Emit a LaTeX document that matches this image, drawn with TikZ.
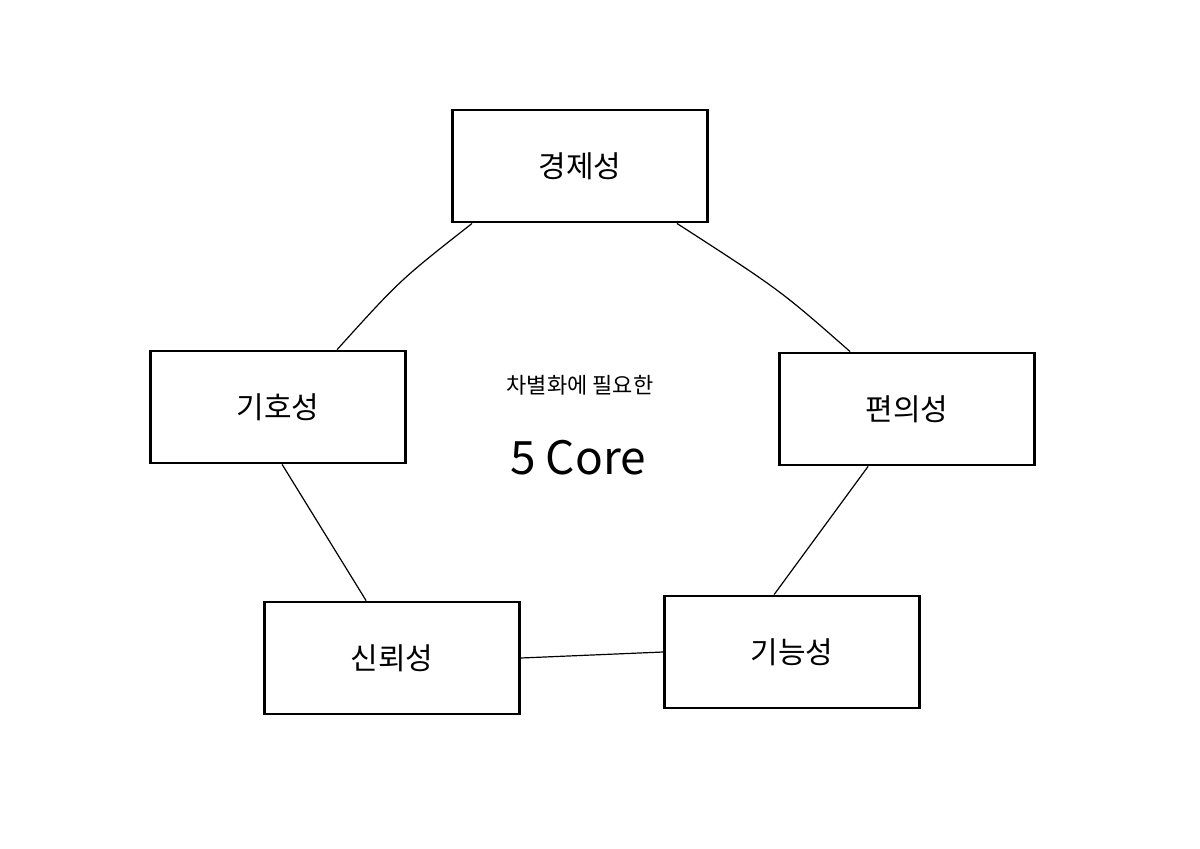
\documentclass[tikz,border=0pt]{standalone}
\usepackage{fontspec}
\setmainfont{Noto Sans CJK KR}
\begin{document}
\begin{tikzpicture}[x=1pt,y=-1pt,
  box/.style={draw=black,line width=2.8pt,minimum width=255pt,minimum height=112pt,font=\fontsize{30}{36}\selectfont},
  link/.style={draw=black,line width=1.2pt}]
\useasboundingbox[fill=white] (0,0) rectangle (1200,849);
\node[box] (a) at (580,166) {경제성};
\node[box] (b) at (278,407) {기호성};
\node[box] (c) at (907,409) {편의성};
\node[box] (d) at (392,658) {신뢰성};
\node[box] (e) at (792,652) {기능성};
\node[font=\fontsize{22}{26}\selectfont] (t1) at (580,385) {차별화에 필요한};
\node[font=\fontsize{46}{52}\selectfont] (t2) at (578,458) {5 Core};
\draw[link] ([xshift=21pt]a.south west) .. controls (400,280) .. ([xshift=188pt]b.north west);
\draw[link] ([xshift=-32pt]a.south east) .. controls (780,290) .. ([xshift=72pt]c.north west);
\draw[link] ([xshift=133pt]b.south west) -- ([xshift=103pt]d.north west);
\draw[link] ([xshift=90pt]c.south west) -- ([xshift=111pt]e.north west);
\draw[link] (d.east) -- (e.west);
\end{tikzpicture}
\end{document}
